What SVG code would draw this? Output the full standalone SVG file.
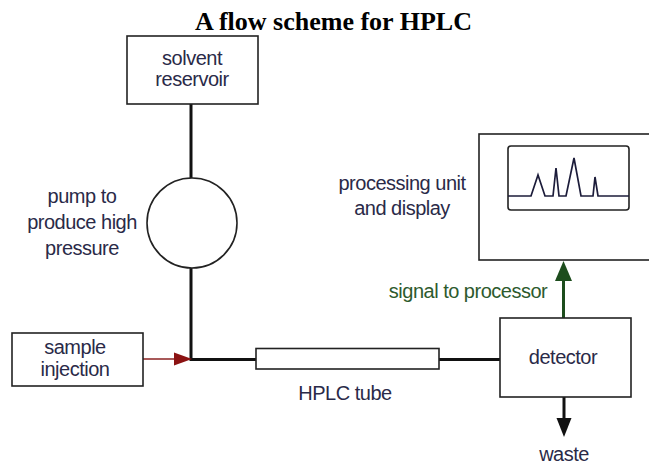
<svg xmlns="http://www.w3.org/2000/svg" width="649" height="465" viewBox="0 0 649 465">
  <style>
    .box { fill: #ffffff; stroke: #222222; stroke-width: 1.6; }
    .pipe { fill: none; stroke: #111111; stroke-width: 3; }
    .lbl { font-family: "Liberation Sans", Arial, sans-serif; font-size: 20px; fill: #2a2a48; text-anchor: middle; letter-spacing: -0.5px; }
    .title { font-family: "Liberation Serif", "Times New Roman", serif; font-size: 26px; font-weight: bold; fill: #000000; text-anchor: middle; }
  </style>
  <rect width="649" height="465" fill="#ffffff"/>

  <text class="title" x="333.5" y="30">A flow scheme for HPLC</text>

  <!-- pipework and signal lines -->
  <g id="connectors">
    <line class="pipe" x1="191" y1="104" x2="191" y2="178"/>
    <polyline class="pipe" points="191,268 191,359.5 256,359.5"/>
    <line class="pipe" x1="439" y1="359.5" x2="500" y2="359.5"/>
    <line x1="143" y1="359" x2="177" y2="359" stroke="#8b2222" stroke-width="1.6"/>
    <polygon points="174,352.5 192,359 174,365.5" fill="#8b1212"/>
    <line x1="563.5" y1="318" x2="563.5" y2="278" stroke="#1d4d1d" stroke-width="3"/>
    <polygon points="555,281 563.5,261 572,281" fill="#1d4d1d"/>
    <line class="pipe" x1="564" y1="397" x2="564" y2="421"/>
    <polygon points="556.5,418 571.5,418 564,437" fill="#111111"/>
  </g>

  <g id="solvent-reservoir">
    <rect class="box" x="127" y="36" width="131" height="68"/>
    <text class="lbl" x="192" y="65">solvent</text>
    <text class="lbl" x="192" y="86">reservoir</text>
  </g>

  <g id="pump">
    <circle cx="192" cy="223" r="45" fill="#ffffff" stroke="#222222" stroke-width="1.6"/>
    <text class="lbl" x="82" y="203">pump to</text>
    <text class="lbl" x="82" y="229">produce high</text>
    <text class="lbl" x="82" y="255">pressure</text>
  </g>

  <g id="sample-injection">
    <rect class="box" x="12" y="333" width="131" height="53"/>
    <text class="lbl" x="75" y="354">sample</text>
    <text class="lbl" x="75" y="376">injection</text>
  </g>

  <g id="hplc-tube">
    <rect class="box" x="256" y="348.5" width="183" height="20.5"/>
    <text class="lbl" x="345" y="400">HPLC tube</text>
  </g>

  <g id="detector">
    <rect class="box" x="500" y="318" width="131" height="79"/>
    <text class="lbl" x="563" y="364">detector</text>
    <text class="lbl" x="564" y="461">waste</text>
  </g>

  <g id="processing-unit">
    <rect class="box" x="479" y="134" width="190" height="126"/>
    <rect x="508" y="146" width="121" height="64" rx="3" fill="none" stroke="#222222" stroke-width="1.6"/>
    <polyline points="508,196 531,196 538,175 545,196 553,196 556,168 559,196 566,196 574,158 581,196 593,196 595,177 598,196 629,196" fill="none" stroke="#1c1c3a" stroke-width="1.7" stroke-linejoin="miter"/>
    <text class="lbl" x="402" y="190">processing unit</text>
    <text class="lbl" x="402" y="215">and display</text>
    <text class="lbl" x="468" y="298" style="fill:#2d5a2d">signal to processor</text>
  </g>
</svg>
